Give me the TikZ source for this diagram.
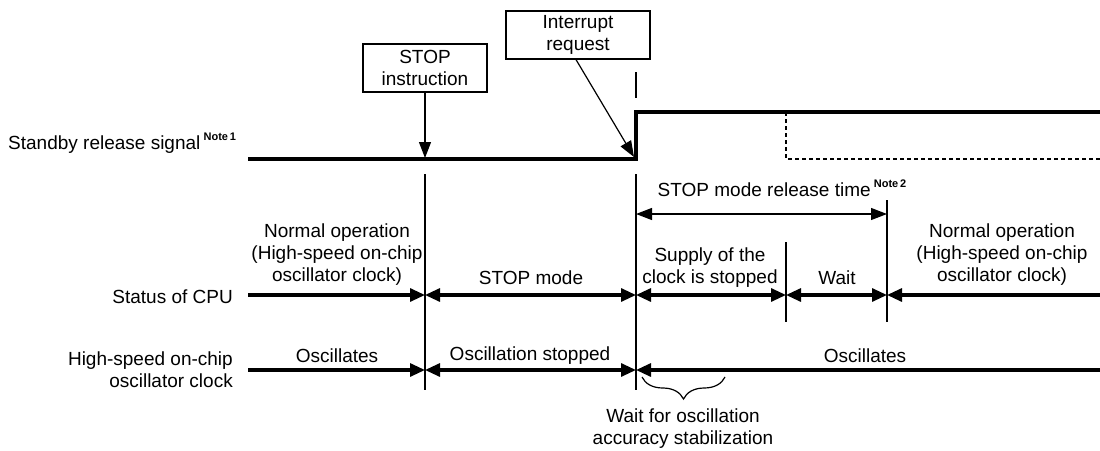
\documentclass[tikz,border=0pt]{standalone}
\usepackage{fontspec}
\setmainfont{Liberation Sans}
\usetikzlibrary{arrows.meta,decorations.pathreplacing}
\newcommand{\notesup}[1]{\raisebox{9pt}{\fontsize{11}{11}\selectfont\bfseries #1}}
\begin{document}
\begin{tikzpicture}[x=1pt,y=-1pt,
  lbl/.style={font=\fontsize{19}{22}\selectfont, inner sep=0pt, align=center},
  boxnode/.style={lbl, draw, line width=1.2pt, minimum height=48pt},
  thk/.style={line width=3.1pt, line join=miter},
  thn/.style={line width=1.2pt},
  dsh/.style={line width=2.3pt, dash pattern=on 4pt off 3pt},
  tipE/.style={-{Triangle[length=15pt,width=13pt]}},
  tipB/.style={{Triangle[length=15pt,width=13pt]}-{Triangle[length=15pt,width=13pt]}},
  tipT/.style={-{Triangle[length=16pt,width=12pt]}},
  tipTB/.style={{Triangle[length=16pt,width=12pt]}-{Triangle[length=16pt,width=12pt]}}]
\useasboundingbox (0,0) rectangle (1100,450);

% standby release signal
\coordinate (s0) at (248,159);
\coordinate (rise) at (636,159);
\coordinate (riseT) at (636,112);
\coordinate (s1) at (1100,112);
\coordinate (dA) at (786,112);
\coordinate (dB) at (786,159);
\coordinate (dC) at (1100,159);
\draw[thk] (s0) -- (rise) -- (riseT) -- (s1);
\draw[dsh] (dA) -- (dB) -- (dC);

% boxes and arrows
\node[boxnode, minimum width=124pt] (stopI) at (425,68) {STOP\\instruction};
\node[boxnode, minimum width=144pt] (intR) at (578,35) {Interrupt\\request};
\coordinate (stopP) at (425,158);
\coordinate (intP) at (634,157);
\draw[thn, tipT] (stopI.south) -- (stopP);
\draw[thn, tipT] ([xshift=-2pt]intR.south) -- (intP);

% vertical lines
\coordinate (tk0) at (636,72); \coordinate (tk1) at (636,98);
\draw[thn] (tk0) -- (tk1);
\coordinate (v1a) at (425,174); \coordinate (v1b) at (425,390);
\coordinate (v2a) at (636,174); \coordinate (v2b) at (636,390);
\coordinate (v3a) at (786,242); \coordinate (v3b) at (786,322);
\coordinate (v4a) at (887,200); \coordinate (v4b) at (887,322);
\draw[thn] (v1a) -- (v1b);
\draw[thn] (v2a) -- (v2b);
\draw[thn] (v3a) -- (v3b);
\draw[thn] (v4a) -- (v4b);

% release time
\coordinate (rt0) at (636,214); \coordinate (rt1) at (887,214);
\draw[thn, tipTB] (rt0) -- (rt1);
\node[lbl] (rtl) at (782,188) {STOP mode release time\,\notesup{Note\,2}};

% CPU status row
\coordinate (c0) at (248,295); \coordinate (c1) at (425,295);
\coordinate (c2) at (636,295); \coordinate (c3) at (786,295);
\coordinate (c4) at (887,295); \coordinate (c5) at (1100,295);
\draw[thk, tipE] (c0) -- (c1);
\draw[thk, tipB] (c1) -- (c2);
\draw[thk, tipB] (c2) -- (c3);
\draw[thk, tipB] (c3) -- (c4);
\draw[thk, tipE] (c5) -- (c4);

% clock row
\coordinate (k0) at (248,370); \coordinate (k1) at (425,370);
\coordinate (k2) at (636,370); \coordinate (k3) at (1100,370);
\draw[thk, tipE] (k0) -- (k1);
\draw[thk, tipB] (k1) -- (k2);
\draw[thk, tipE] (k3) -- (k2);

% brace
\coordinate (br0) at (642,377); \coordinate (br1) at (725,377);
\draw[thn, decorate, decoration={brace, mirror, amplitude=22pt}] (br0) -- (br1);

% labels
\node[lbl, anchor=west] (lsig) at (8,143) {Standby release signal\,\notesup{Note\,1}};
\node[lbl, anchor=east] (lcpu) at (233,297) {Status of CPU};
\node[lbl, anchor=east, align=right] (lclk) at (233,370) {High-speed on-chip\\oscillator clock};

\node[lbl] (tn1) at (337,255) {Normal operation\\(High-speed on-chip\\oscillator clock)};
\node[lbl] (tsm) at (531,278) {STOP mode};
\node[lbl] (tsup) at (710,268) {Supply of the\\clock is stopped};
\node[lbl] (twt) at (837,278) {Wait};
\node[lbl] (tn2) at (1002,255) {Normal operation\\(High-speed on-chip\\oscillator clock)};
\node[lbl] (to1) at (337,356) {Oscillates};
\node[lbl] (tos) at (530,356) {Oscillation stopped};
\node[lbl] (to2) at (865,356) {Oscillates};
\node[lbl] (twf) at (683,429) {Wait for oscillation\\accuracy stabilization};
\end{tikzpicture}
\end{document}
